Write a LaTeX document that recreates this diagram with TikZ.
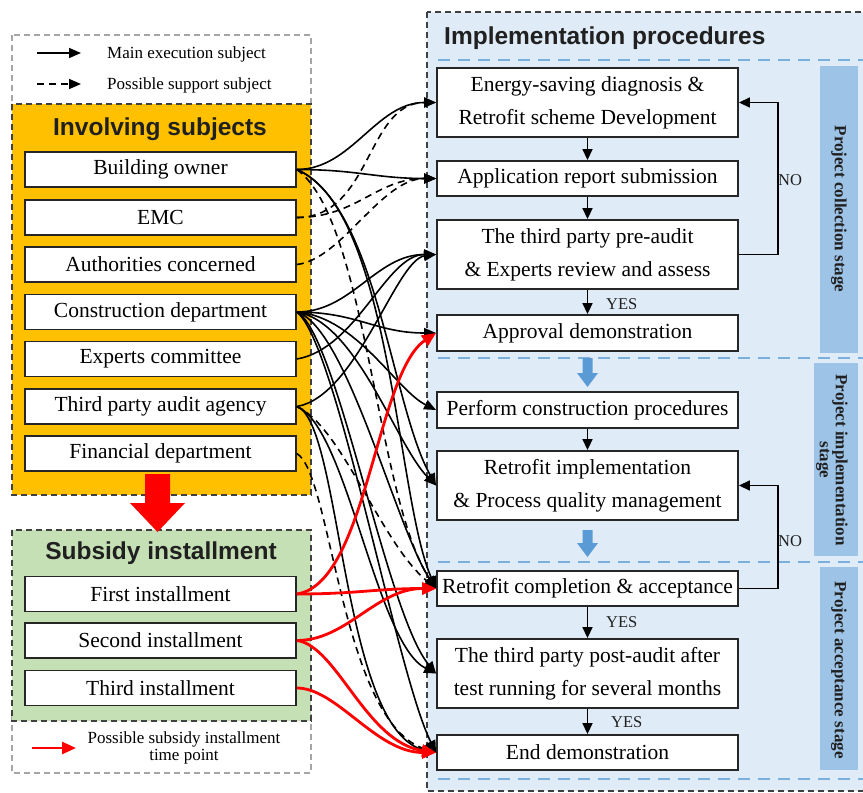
\documentclass[tikz,border=0pt]{standalone}
\usepackage{fontspec}
\setmainfont{Liberation Serif}
\setsansfont{Liberation Sans}
\usetikzlibrary{arrows.meta}
\definecolor{orng}{HTML}{FFC000}
\definecolor{grn}{HTML}{C5E0B4}
\definecolor{lblue}{HTML}{DFECF8}
\definecolor{stg}{HTML}{9DC3E6}
\definecolor{sepblue}{HTML}{7BAFDE}
\definecolor{arrblue}{HTML}{5B9BD5}
\definecolor{dkgray}{HTML}{404040}
\definecolor{lgray}{HTML}{A6A6A6}
\definecolor{boxline}{HTML}{262626}
\definecolor{titlec}{HTML}{202020}
\begin{document}
\begin{tikzpicture}[x=1pt,y=-1pt,
  lbox/.style={draw=boxline, line width=1.6pt, fill=white, minimum width=271pt, minimum height=35pt, inner sep=0pt, font=\fontsize{21.5}{25}\selectfont},
  pbox/.style={draw=boxline, line width=1.9pt, fill=white, minimum width=301pt, inner sep=0pt, align=center, font=\fontsize{21.5}{33}\selectfont},
  mainc/.style={draw=black, line width=1.6pt, -{Triangle[length=12pt,width=10pt]}},
  suppc/.style={mainc, dash pattern=on 7pt off 5pt},
  redc/.style={draw=red, line width=2.8pt, -{Triangle[length=14pt,width=12pt]}},
  flow/.style={draw=black, line width=1.7pt, -{Triangle[length=11pt,width=10pt]}},
  sepline/.style={draw=sepblue, line width=2pt, dash pattern=on 12pt off 8pt},
  stagetxt/.style={rotate=-90, align=center, text=titlec, font=\bfseries\fontsize{17}{17}\selectfont},
  titletxt/.style={font=\sffamily\bfseries\fontsize{24.5}{28}\selectfont, text=titlec, inner sep=0pt},
  legtxt/.style={font=\fontsize{17}{17}\selectfont, inner sep=0pt},
  yn/.style={font=\fontsize{16.5}{18}\selectfont, inner sep=0pt, text=titlec}
]
\useasboundingbox (0,0) rectangle (863,793);
\clip (0,0) rectangle (863,793);

% ---------- backgrounds ----------
\draw[draw=lgray, line width=1.2pt, dash pattern=on 6pt off 4pt] (12,35) rectangle (311,110);
\draw[draw=lgray, line width=1.2pt, dash pattern=on 6pt off 4pt] (12,715) rectangle (311,773);
\draw[fill=orng, draw=dkgray, line width=1.6pt, dash pattern=on 6pt off 4pt] (12,104) rectangle (311,495);
\draw[fill=grn, draw=dkgray, line width=1.6pt, dash pattern=on 6pt off 4pt] (12,530) rectangle (311,721);
\draw[fill=lblue, draw=dkgray, line width=1.5pt, dash pattern=on 6pt off 4pt] (427,12) rectangle (880,791);

% big red arrow
\fill[red] (145,474) -- (170,474) -- (170,503) -- (185,503) -- (157.5,532) -- (130,503) -- (145,503) -- cycle;

% separators
\draw[sepline] (438,60) -- (863,60);
\draw[sepline] (438,358) -- (863,358);
\draw[sepline] (438,562) -- (863,562);
\draw[sepline] (438,779) -- (863,779);

% stage labels
\fill[stg] (820,66) rectangle (858,353);
\fill[stg] (814,363) rectangle (858,556);
\fill[stg] (820,567) rectangle (858,770);
\node[stagetxt] (st1) at (839,209) {Project collection stage};
\node[stagetxt, font=\bfseries\fontsize{17}{16}\selectfont] (st2) at (832,460) {Project implementation\\stage};
\node[stagetxt] (st3) at (839,670) {Project acceptance stage};

% blue arrows
\fill[arrblue] (582.5,358) -- (592.5,358) -- (592.5,373) -- (598,373) -- (587.5,387) -- (577,373) -- (582.5,373) -- cycle;
\fill[arrblue] (582.5,530) -- (592.5,530) -- (592.5,543) -- (598,543) -- (587.5,557) -- (577,543) -- (582.5,543) -- cycle;

% ---------- titles ----------
\node[titletxt] (t1) at (160,129) {Involving subjects};
\node[titletxt] (t2) at (161,553) {Subsidy installment};
\node[titletxt, anchor=west] (t3) at (444,38) {Implementation procedures};

% ---------- legends ----------
\coordinate (la1) at (37,53); \coordinate (lb1) at (81,53);
\coordinate (la2) at (37,84); \coordinate (lb2) at (81,84);
\coordinate (la3) at (32,748); \coordinate (lb3) at (76,748);
\draw[mainc] (la1) -- (lb1);
\draw[suppc] (la2) -- (lb2);
\draw[redc] (la3) -- (lb3);
\node[legtxt, anchor=west] (lt1) at (107,54) {Main execution subject};
\node[legtxt, anchor=west] (lt2) at (107,85) {Possible support subject};
\node[legtxt, align=center, font=\fontsize{17}{17}\selectfont] (lt3) at (184,748) {Possible subsidy installment\\time point};

% ---------- left boxes ----------
\node[lbox] (bo) at (160.5,169.5) {Building owner};
\node[lbox] (emc) at (160.5,217.5) {EMC};
\node[lbox] (ac) at (160.5,264.5) {Authorities concerned};
\node[lbox] (cd) at (160.5,312) {Construction department};
\node[lbox] (ec) at (160.5,359) {Experts committee};
\node[lbox] (tp) at (160.5,406.5) {Third party audit agency};
\node[lbox] (fd) at (160.5,453.5) {Financial department};
\node[lbox] (fi) at (160.5,594) {First installment};
\node[lbox] (se) at (160.5,640.5) {Second installment};
\node[lbox] (th) at (160.5,688) {Third installment};

% ---------- process boxes ----------
\node[pbox, minimum height=69pt] (en) at (587.5,102.5) {Energy-saving diagnosis \&\\Retrofit scheme Development};
\node[pbox, minimum height=35pt] (app) at (587.5,178.5) {Application report submission};
\node[pbox, minimum height=69pt] (pre) at (587.5,254.5) {The third party pre-audit\\\& Experts review and assess};
\node[pbox, minimum height=36pt] (apr) at (587.5,333) {Approval demonstration};
\node[pbox, minimum height=36pt] (per) at (587.5,410) {Perform construction procedures};
\node[pbox, minimum height=69pt] (imp) at (587.5,485.5) {Retrofit implementation\\\& Process quality management};
\node[pbox, minimum height=35pt] (com) at (587.5,588.5) {Retrofit completion \& acceptance};
\node[pbox, minimum height=69pt] (pos) at (587.5,673.5) {The third party post-audit after\\test running for several months};
\node[pbox, minimum height=35pt] (endd) at (587.5,752.5) {End demonstration};

% flow arrows
\draw[flow] (en.south) -- (app.north);
\draw[flow] (app.south) -- (pre.north);
\draw[flow] (pre.south) -- (apr.north);
\draw[flow] (per.south) -- (imp.north);
\draw[flow] (com.south) -- (pos.north);
\draw[flow] (pos.south) -- (endd.north);
\draw[flow] (pre.east) -- ++(39,0) |- (en.east);
\draw[flow] (com.east) -- ++(39,0) |- (imp.east);
\node[yn, anchor=west] (no1) at (778,180) {NO};
\node[yn, anchor=west] (no2) at (778,541) {NO};
\node[yn, anchor=west] (y1) at (606,304) {YES};
\node[yn, anchor=west] (y2) at (606,622) {YES};
\node[yn, anchor=west] (y3) at (611,722) {YES};

% ---------- connectors: support (dashed) ----------
\draw[suppc] (emc.east) .. controls +(75,0) and +(-70,0) .. (en.west);
\draw[suppc] (emc.east) .. controls +(60,0) and +(-60,0) .. (app.west);
\draw[suppc] (ac.east) .. controls +(45,-5) and +(-55,0) .. (app.west);
\draw[suppc] (bo.east) .. controls +(70,50) and +(-60,-90) .. (com.west);
\draw[suppc] (tp.east) .. controls +(45,20) and +(-55,-45) .. (com.west);
\draw[suppc] (fd.east) .. controls +(35,20) and +(-95,-30) .. (endd.west);

% ---------- connectors: main (solid) ----------
\draw[mainc] (bo.east) .. controls +(55,0) and +(-60,0) .. (en.west);
\draw[mainc] (bo.east) .. controls +(60,0) and +(-60,0) .. (app.west);
\draw[mainc] (bo.east) .. controls +(80,35) and +(-45,-80) .. (imp.west);
\draw[mainc] (bo.east) .. controls +(95,40) and +(-40,-90) .. (com.west);
\draw[mainc] (cd.east) .. controls +(55,0) and +(-60,0) .. (pre.west);
\draw[mainc] (ec.east) .. controls +(60,-10) and +(-50,0) .. (pre.west);
\draw[mainc] (tp.east) .. controls +(60,-10) and +(-40,5) .. (pre.west);
\draw[mainc] (cd.east) .. controls +(60,0) and +(-60,0) .. (apr.west);
\draw[mainc] (cd.east) .. controls +(60,5) and +(-40,-20) .. (per.west);
\draw[mainc] (cd.east) .. controls +(60,10) and +(-40,-40) .. (imp.west);
\draw[mainc] (cd.east) .. controls +(50,15) and +(-40,-60) .. (com.west);
\draw[mainc] (cd.east) .. controls +(40,20) and +(-50,-60) .. (pos.west);
\draw[mainc] (cd.east) .. controls +(40,30) and +(-40,-80) .. (endd.west);
\draw[mainc] (tp.east) .. controls +(50,20) and +(-60,-30) .. (pos.west);
\draw[mainc] (tp.east) .. controls +(45,15) and +(-95,-20) .. (endd.west);

% ---------- connectors: subsidy (red) ----------
\draw[redc] (fi.east) .. controls +(70,-10) and +(-60,40) .. (apr.west);
\draw[redc] (fi.east) .. controls +(60,0) and +(-60,0) .. (com.west);
\draw[redc] (se.east) .. controls +(50,0) and +(-60,0) .. (com.west);
\draw[redc] (se.east) .. controls +(40,5) and +(-70,-10) .. (endd.west);
\draw[redc] (th.east) .. controls +(40,0) and +(-60,0) .. (endd.west);
\end{tikzpicture}
\end{document}
